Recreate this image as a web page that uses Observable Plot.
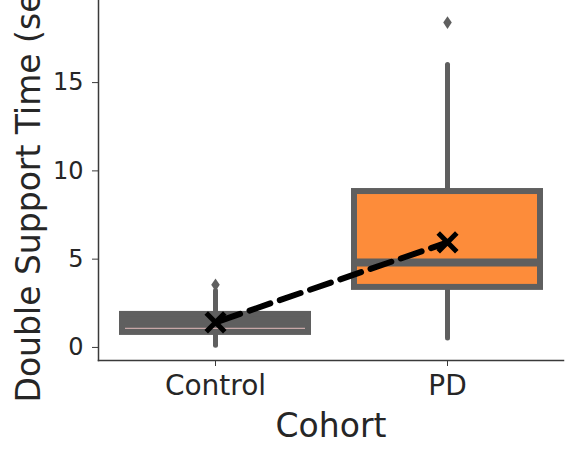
<!DOCTYPE html>
<html>
<head>
<meta charset="utf-8">
<script src="https://cdn.jsdelivr.net/npm/d3@7"></script>
<script src="https://cdn.jsdelivr.net/npm/@observablehq/plot@0.6"></script>
<style>
  html, body { margin: 0; padding: 0; background: #fff; }
  #chart { width: 566px; height: 452px; overflow: hidden; }
</style>
</head>
<body>
<div id="chart"></div>
<script>
// ---- data ----
const cohorts = ["Control", "PD"];
const q1 = [0.85, 3.4];
const medians = [1.08, 4.81];
const q3 = [1.87, 8.83];
const whiskerLow = [0.1, 0.5];
const whiskerHigh = [3.2, 16.0];
const means = [1.42, 5.95];
const outlierCohorts = ["Control", "PD"];
const outlierValues = [3.55, 18.4];
const yTicks = [0, 5, 10, 15];
const xLabel = "Cohort";
const yLabel = "Double Support Time (sec)";

// ---- styles ----
const GRAY = "#5f5f5f";
const palette = {Control: "#5f5f5f", PD: "#fd8c3a"};
const TEXT = "#262626";
const AXIS = "#3a3a3a";

const boxes = cohorts.map((c, i) => ({
  cohort: c, q1: q1[i], median: medians[i], q3: q3[i],
  lo: whiskerLow[i], hi: whiskerHigh[i], mean: means[i]
}));
const outliers = outlierCohorts.map((c, i) => ({cohort: c, value: outlierValues[i]}));

const thinDiamond = {
  draw(context, size) {
    const s = Math.sqrt(size);
    const hh = s * 0.6, hw = s * 0.4;
    context.moveTo(0, -hh);
    context.lineTo(hw, 0);
    context.lineTo(0, hh);
    context.lineTo(-hw, 0);
    context.closePath();
  }
};

const plot = Plot.plot({
  width: 566,
  height: 452,
  marginLeft: 98,
  marginRight: 3,
  marginTop: 0,
  marginBottom: 92,
  style: {fontFamily: "DejaVu Sans", background: "#fff", color: TEXT},
  x: {domain: cohorts, padding: 0, label: null, axis: null},
  y: {domain: [-0.74, 19.65], label: null, axis: null},
  marks: [
    Plot.frame({anchor: "left", stroke: AXIS, strokeWidth: 1.5}),
    Plot.frame({anchor: "bottom", stroke: AXIS, strokeWidth: 1.5}),
    Plot.axisY(yTicks, {tickSize: 6, tickPadding: 9, fontSize: 24, stroke: AXIS, fill: TEXT, label: null, tickFormat: d => d}),
    Plot.axisX(cohorts, {tickSize: 6, tickPadding: 9, fontSize: 28, stroke: AXIS, fill: TEXT, label: null}),
    // whiskers
    Plot.ruleX(boxes, {x: "cohort", y1: "lo", y2: "q1", stroke: GRAY, strokeWidth: 5, strokeLinecap: "round"}),
    Plot.ruleX(boxes, {x: "cohort", y1: "q3", y2: "hi", stroke: GRAY, strokeWidth: 5, strokeLinecap: "round"}),
    // boxes
    Plot.barY(boxes, {x: "cohort", y1: "q1", y2: "q3", fill: d => palette[d.cohort], stroke: GRAY, strokeWidth: 6, insetLeft: 23, insetRight: 23}),
    // medians
    Plot.tickY(boxes.filter(d => d.cohort === "PD"), {x: "cohort", y: "median", stroke: GRAY, strokeWidth: 8, insetLeft: 23, insetRight: 23}),
    Plot.tickY(boxes.filter(d => d.cohort === "Control"), {x: "cohort", y: "median", stroke: "#c7a7a7", strokeWidth: 1.2, insetLeft: 26, insetRight: 26}),
    // outliers
    Plot.dot(outliers, {x: "cohort", y: "value", symbol: thinDiamond, r: 6, fill: GRAY, stroke: null}),
    // mean line and markers
    Plot.line(boxes, {x: "cohort", y: "mean", stroke: "black", strokeWidth: 6, strokeDasharray: "22,10", strokeDashoffset: -4}),
    Plot.dot(boxes, {x: "cohort", y: "mean", symbol: "times", r: 8.5, stroke: "black", strokeWidth: 5}),
    // axis titles
    Plot.text([xLabel], {frameAnchor: "bottom", dy: 66, fontSize: 33, lineAnchor: "middle", fill: TEXT}),
    Plot.text([yLabel], {frameAnchor: "bottom-left", rotate: -90, textAnchor: "start", lineAnchor: "middle", dx: -69, dy: 42, fontSize: 33, fill: TEXT})
  ]
});
document.getElementById("chart").appendChild(plot);
</script>
</body>
</html>
